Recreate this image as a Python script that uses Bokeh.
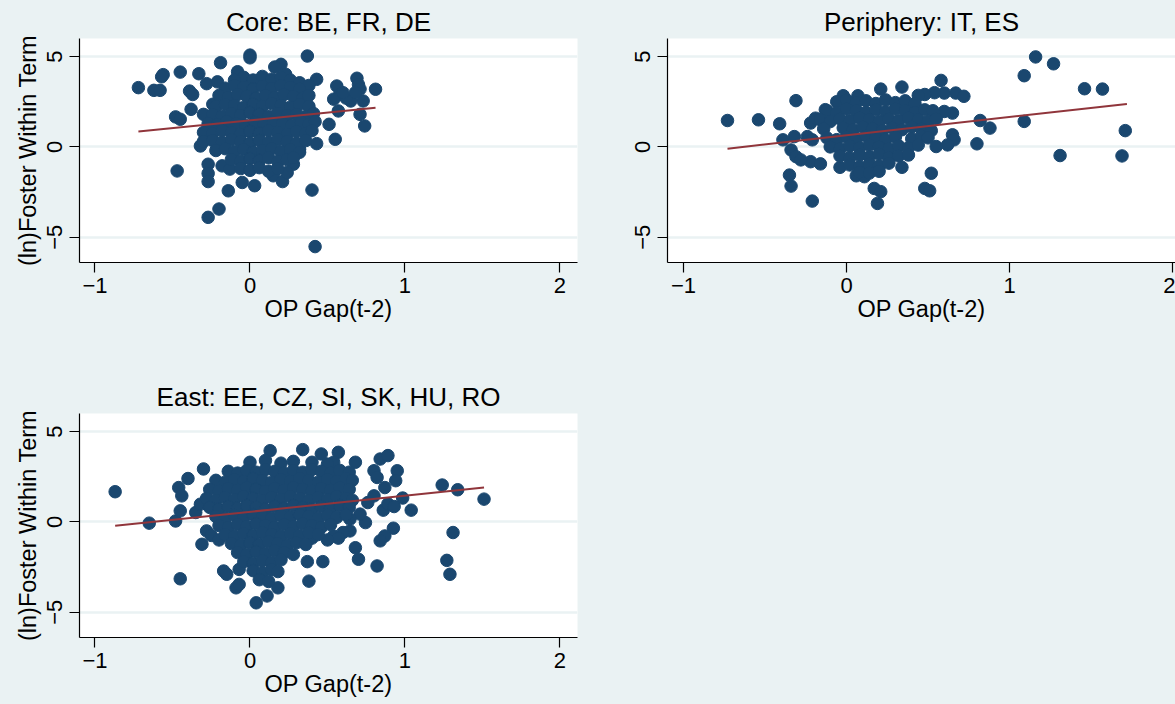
from bokeh.plotting import figure
from bokeh.layouts import column, row
from bokeh.models import Range1d, FixedTicker
from bokeh.embed import file_html
from bokeh.resources import INLINE

# ---------------- data ----------------
panel_titles = ["Core: BE, FR, DE", "Periphery: IT, ES", "East: EE, CZ, SI, SK, HU, RO"]
x_label = "OP Gap(t-2)"
y_label = "(ln)Foster Within Term"
x_ticks = [-1, 0, 1, 2]
y_ticks = [-5, 0, 5]

core_points = [
    (-0.72, 3.28), (-0.62, 3.13), (-0.58, 3.13), (-0.56, 4.00), (-0.57, 3.88),
    (-0.45, 4.14), (-0.33, 4.05), (-0.39, 3.09), (-0.37, 2.90), (-0.38, 2.08),
    (-0.48, 1.66), (-0.45, 1.53), (-0.47, -1.33), (-0.19, 4.66), (0.00, 5.08),
    (0.00, 4.93), (0.37, 5.03), (-0.14, -2.43), (-0.20, -3.44), (-0.27, -3.90),
    (-0.27, -0.96), (-0.27, -1.47), (-0.27, -1.92), (-0.32, 0.05), (0.40, -2.39),
    (0.42, -5.52), (0.43, 0.18), (0.55, 0.42), (0.51, 1.25), (0.74, 1.16),
    (0.81, 3.19), (0.69, 3.80), (0.70, 3.45), (0.71, 3.20), (0.73, 2.54),
    (0.71, 1.80), (0.65, 2.54), (0.56, 3.37), (0.58, 2.91), (0.54, 2.64),
    (0.57, 1.99), (0.43, 3.74), (0.20, 4.57), (0.16, 4.42), (0.23, 4.02),
    (-0.08, 4.16), (-0.28, 3.50), (-0.21, 3.60), (-0.24, 2.36), (-0.30, 1.80),
    (-0.18, -1.05), (-0.13, -1.23), (-0.05, -1.97), (0.03, -2.15), (0.15, -1.60),
    (0.21, -1.92), (0.28, -0.96), (0.24, -1.42), (0.32, -0.13), (0.62, 2.70),
    (0.60, 3.00), (0.68, 3.00),
    (-0.04, 3.85), (0.02, 3.70), (0.08, 3.90), (0.14, 3.75), (0.20, 3.85),
    (0.26, 3.70), (0.32, 3.55), (0.38, 3.40), (-0.10, 3.70),
    (-0.16, 3.25), (-0.10, 3.40), (-0.04, 3.30), (0.02, 3.20), (0.08, 3.35),
    (0.14, 3.25), (0.20, 3.40), (0.26, 3.30), (0.32, 3.20),
    (-0.20, 2.85), (-0.14, 2.75), (-0.08, 2.90), (-0.02, 2.80), (0.04, 2.70),
    (0.10, 2.85), (0.16, 2.75), (0.22, 2.90), (0.28, 2.80), (0.34, 2.70), (0.38, 2.85),
    (-0.22, 2.25), (-0.16, 2.35), (-0.10, 2.30), (-0.04, 2.20), (0.02, 2.35),
    (0.08, 2.25), (0.14, 2.40), (0.20, 2.30), (0.26, 2.20), (0.32, 2.35), (0.38, 2.25),
    (-0.24, 1.80), (-0.18, 1.70), (-0.12, 1.85), (-0.06, 1.75), (0.00, 1.90),
    (0.06, 1.80), (0.12, 1.70), (0.18, 1.85), (0.24, 1.75), (0.30, 1.80),
    (0.36, 1.70), (0.41, 1.85),
    (-0.27, 1.30), (-0.21, 1.25), (-0.15, 1.40), (-0.09, 1.30), (-0.03, 1.20),
    (0.03, 1.35), (0.09, 1.25), (0.15, 1.40), (0.21, 1.30), (0.27, 1.20),
    (0.33, 1.35), (0.38, 1.25), (0.42, 1.40),
    (-0.30, 0.80), (-0.24, 0.75), (-0.18, 0.90), (-0.12, 0.80), (-0.06, 0.70),
    (0.00, 0.85), (0.06, 0.75), (0.12, 0.90), (0.18, 0.80), (0.24, 0.70),
    (0.30, 0.85), (0.36, 0.75), (0.40, 0.90),
    (-0.30, 0.30), (-0.24, 0.35), (-0.18, 0.25), (-0.12, 0.40), (-0.06, 0.30),
    (0.00, 0.20), (0.06, 0.35), (0.12, 0.25), (0.18, 0.40), (0.24, 0.30),
    (0.30, 0.20), (0.36, 0.35),
    (-0.22, -0.20), (-0.16, -0.10), (-0.10, -0.25), (-0.04, -0.15), (0.02, -0.30),
    (0.08, -0.20), (0.14, -0.10), (0.20, -0.25), (0.26, -0.15), (0.32, -0.30),
    (-0.12, -0.70), (-0.06, -0.80), (0.00, -0.65), (0.06, -0.75), (0.12, -0.60),
    (0.18, -0.80), (0.24, -0.70), (0.28, -0.60),
    (-0.06, -1.20), (0.00, -1.30), (0.06, -1.15), (0.12, -1.35), (0.18, -1.20),
]

periphery_points = [
    (-0.73, 1.46), (-0.54, 1.50), (-0.41, 1.28), (-0.31, 2.56), (-0.35, -1.56),
    (-0.34, -2.17), (-0.21, -3.00), (-0.22, -0.82), (-0.16, -0.94), (-0.04, -1.13),
    (0.06, -1.60), (0.11, -1.65), (0.17, -2.30), (0.21, -2.48), (0.19, -3.13),
    (0.34, -1.13), (0.52, -1.46), (0.48, -2.30), (0.51, -2.43), (0.80, 0.17),
    (0.82, 1.46), (0.88, 1.04), (0.58, 3.68), (0.60, 2.98), (0.67, 2.98),
    (0.72, 2.80), (0.54, 3.00), (0.48, 2.90), (0.44, 2.85), (0.34, 3.31),
    (0.21, 3.20), (-0.02, 2.83), (0.07, 2.83), (0.65, 1.87), (0.60, 1.96),
    (0.65, 0.67), (0.66, 0.39), (0.62, 0.11), (0.55, 0.02),
    (1.09, 3.94), (1.16, 4.98), (1.27, 4.60), (1.46, 3.22), (1.57, 3.20),
    (1.09, 1.41), (1.31, -0.48), (1.69, -0.50), (1.71, 0.90),
    (-0.39, 0.39), (-0.32, 0.57), (-0.34, -0.17), (-0.31, -0.54), (-0.28, -0.72),
    (-0.24, 0.57), (-0.22, 1.32), (-0.19, 1.59), (-0.13, 2.06), (-0.21, 0.39),
    (-0.06, 2.50), (0.00, 2.60), (0.06, 2.45), (0.12, 2.55), (0.18, 2.40),
    (0.24, 2.60), (0.30, 2.45), (0.36, 2.55), (0.42, 2.40),
    (-0.12, 2.00), (-0.06, 1.90), (0.00, 2.10), (0.06, 2.00), (0.12, 1.90),
    (0.18, 2.05), (0.24, 1.95), (0.30, 2.10), (0.36, 2.00), (0.42, 1.90),
    (0.48, 2.05), (0.53, 2.00),
    (-0.16, 1.50), (-0.10, 1.40), (-0.04, 1.55), (0.02, 1.45), (0.08, 1.60),
    (0.14, 1.50), (0.20, 1.40), (0.26, 1.55), (0.32, 1.45), (0.38, 1.60),
    (0.44, 1.50), (0.50, 1.40), (0.55, 1.55),
    (-0.14, 1.00), (-0.02, 1.05), (0.04, 0.95), (0.10, 1.10), (0.16, 1.00),
    (0.22, 0.90), (0.28, 1.05), (0.34, 0.95), (0.40, 1.10), (0.46, 1.00), (0.52, 0.90),
    (-0.12, 0.50), (-0.06, 0.40), (0.00, 0.55), (0.06, 0.45), (0.12, 0.60),
    (0.18, 0.50), (0.24, 0.40), (0.30, 0.55), (0.40, 0.45), (0.46, 0.60), (0.50, 0.50),
    (-0.10, 0.00), (-0.04, -0.10), (0.02, 0.05), (0.08, -0.05), (0.14, 0.10),
    (0.20, 0.00), (0.26, -0.10), (0.32, 0.05), (0.38, -0.05), (0.44, 0.10),
    (-0.04, -0.50), (0.02, -0.60), (0.08, -0.45), (0.14, -0.55), (0.20, -0.40),
    (0.26, -0.60), (0.32, -0.50), (0.38, -0.45),
    (0.02, -1.00), (0.08, -1.10), (0.14, -0.95), (0.20, -1.05), (0.26, -0.90),
    (0.08, -1.40), (0.14, -1.45), (0.20, -1.35),
]

east_points = [
    (-0.87, 1.67), (-0.65, -0.07), (-0.48, 0.05), (-0.45, 0.61), (-0.46, 1.90),
    (-0.44, 1.44), (-0.40, 2.40), (-0.30, 2.93), (-0.45, -3.15), (-0.31, -1.24),
    (-0.35, 0.52), (-0.32, 0.98), (-0.17, -2.72), (-0.15, -2.90), (-0.09, -3.65),
    (-0.07, -3.46), (-0.07, -2.63), (0.04, -4.48), (0.11, -4.10), (0.18, -3.65),
    (0.38, -3.28), (0.37, -2.20), (0.47, -2.20), (0.13, 3.94), (0.34, 4.00),
    (0.46, 3.76), (0.57, 3.85), (0.68, 3.30), (0.54, 3.30), (0.84, 3.48),
    (0.89, 3.67), (0.80, 2.83), (0.95, 2.83), (0.94, 2.28), (0.87, 1.90),
    (0.82, 2.46), (0.985, 1.32), (1.04, 0.65), (0.86, 0.65), (0.89, 1.00),
    (0.93, 0.85), (0.925, -0.35), (0.87, -0.78), (0.84, -1.05), (0.82, -2.44),
    (0.70, -2.07), (0.68, -1.43), (0.645, -0.50), (0.60, -0.59), (0.54, -0.78),
    (0.745, -0.04), (0.71, 0.43), (0.645, 0.15), (0.76, 1.07), (0.80, 1.44),
    (0.57, -0.90), (0.50, -1.00), (0.40, -0.90),
    (1.24, 2.04), (1.34, 1.78), (1.51, 1.26), (1.31, -0.59), (1.27, -2.13), (1.29, -2.90),
    (-0.28, -0.50), (-0.25, -0.75), (-0.20, -1.00),
    (0.00, 3.30), (0.10, 3.40), (0.20, 3.25), (0.28, 3.35), (0.40, 3.30), (0.50, 3.20),
    (-0.14, 2.80), (-0.08, 2.70), (-0.02, 2.85), (0.04, 2.75), (0.10, 2.90),
    (0.16, 2.80), (0.22, 2.70), (0.28, 2.85), (0.34, 2.75), (0.40, 2.90),
    (0.46, 2.80), (0.52, 2.70), (0.58, 2.85), (0.64, 2.75),
    (-0.22, 2.30), (-0.16, 2.20), (-0.10, 2.35), (-0.04, 2.25), (0.02, 2.40),
    (0.08, 2.30), (0.14, 2.20), (0.20, 2.35), (0.26, 2.25), (0.32, 2.40),
    (0.38, 2.30), (0.44, 2.20), (0.50, 2.35), (0.56, 2.25), (0.62, 2.40), (0.66, 2.30),
    (-0.26, 1.80), (-0.20, 1.70), (-0.14, 1.85), (-0.08, 1.75), (-0.02, 1.90),
    (0.04, 1.80), (0.10, 1.70), (0.16, 1.85), (0.22, 1.75), (0.28, 1.90),
    (0.34, 1.80), (0.40, 1.70), (0.46, 1.85), (0.52, 1.75), (0.58, 1.90), (0.64, 1.80),
    (-0.28, 1.30), (-0.22, 1.20), (-0.16, 1.35), (-0.10, 1.25), (-0.04, 1.40),
    (0.02, 1.30), (0.08, 1.20), (0.14, 1.35), (0.20, 1.25), (0.26, 1.40),
    (0.32, 1.30), (0.38, 1.20), (0.44, 1.35), (0.50, 1.25), (0.56, 1.40),
    (0.62, 1.30), (0.66, 1.20),
    (-0.26, 0.80), (-0.20, 0.70), (-0.14, 0.85), (-0.08, 0.75), (-0.02, 0.90),
    (0.04, 0.80), (0.10, 0.70), (0.16, 0.85), (0.22, 0.75), (0.28, 0.90),
    (0.34, 0.80), (0.40, 0.70), (0.46, 0.85), (0.52, 0.75), (0.58, 0.90), (0.64, 0.80),
    (-0.22, 0.30), (-0.16, 0.20), (-0.10, 0.35), (-0.04, 0.25), (0.02, 0.40),
    (0.08, 0.30), (0.14, 0.20), (0.20, 0.35), (0.26, 0.25), (0.32, 0.40),
    (0.38, 0.30), (0.44, 0.20), (0.50, 0.35), (0.56, 0.25), (0.62, 0.40),
    (-0.20, -0.20), (-0.14, -0.30), (-0.08, -0.15), (-0.02, -0.25), (0.04, -0.10),
    (0.10, -0.20), (0.16, -0.30), (0.22, -0.15), (0.28, -0.25), (0.34, -0.10),
    (0.40, -0.20), (0.46, -0.30), (0.52, -0.15),
    (-0.16, -0.70), (-0.10, -0.80), (-0.04, -0.65), (0.02, -0.75), (0.08, -0.60),
    (0.14, -0.70), (0.20, -0.80), (0.26, -0.65), (0.32, -0.75), (0.38, -0.60), (0.44, -0.70),
    (-0.12, -1.20), (-0.06, -1.30), (0.00, -1.15), (0.06, -1.25), (0.12, -1.10),
    (0.18, -1.20), (0.24, -1.30), (0.30, -1.15), (0.36, -1.25),
    (-0.08, -1.70), (-0.02, -1.80), (0.04, -1.65), (0.10, -1.75), (0.16, -1.60),
    (0.22, -1.70), (0.28, -1.80),
    (-0.04, -2.20), (0.02, -2.30), (0.08, -2.15), (0.14, -2.25), (0.20, -2.10),
    (0.02, -2.70), (0.08, -2.80), (0.14, -2.65), (0.18, -2.75),
    (0.06, -3.20), (0.12, -3.30),
]

# fitted-line endpoints (x, y)
core_fit_x = [-0.72, 0.81]
core_fit_y = [0.85, 2.16]
periphery_fit_x = [-0.73, 1.72]
periphery_fit_y = [-0.10, 2.38]
east_fit_x = [-0.87, 1.51]
east_fit_y = [-0.22, 1.91]

# ---------------- styling ----------------
BG = "#EAF2F3"
NAVY = "#1A476F"
MAROON = "#90353B"
FONT = "Liberation Sans"


def make_panel(title, points, fit_x, fit_y, x_range, frame_w, mbl, mbr, mbb,
               show_ylabel, title_offset=0):
    p = figure(
        frame_width=frame_w, frame_height=224,
        x_range=Range1d(*x_range), y_range=Range1d(-6.4, 6.0),
        output_backend="svg", toolbar_location=None,
        min_border_left=mbl, min_border_right=mbr,
        min_border_top=38, min_border_bottom=mbb,
        border_fill_color=BG, background_fill_color="white",
        outline_line_color=None, title=title,
    )
    p.title.align = "center"
    p.title.text_font = FONT
    p.title.text_font_size = "26px"
    p.title.text_font_style = "normal"
    p.title.text_color = "black"
    p.title.standoff = 3
    p.title.offset = title_offset

    xs = [pt[0] for pt in points]
    ys = [pt[1] for pt in points]
    p.scatter(xs, ys, size=12.5, fill_color=NAVY, line_color=NAVY)
    p.line(fit_x, fit_y, line_color=MAROON, line_width=2)

    p.xgrid.visible = False
    p.ygrid.ticker = FixedTicker(ticks=y_ticks)
    p.ygrid.grid_line_color = BG
    p.ygrid.grid_line_width = 2.5

    for ax in (p.xaxis[0], p.yaxis[0]):
        ax.axis_line_color = "black"
        ax.axis_line_width = 1.2
        ax.major_tick_line_color = "black"
        ax.major_tick_line_width = 1.2
        ax.major_tick_out = 10
        ax.major_tick_in = 0
        ax.minor_tick_out = 0
        ax.minor_tick_in = 0
        ax.major_label_text_font = FONT
        ax.major_label_text_font_size = "22px"
        ax.major_label_text_color = "black"
        ax.axis_label_text_font = FONT
        ax.axis_label_text_font_size = "23.5px"
        ax.axis_label_text_font_style = "normal"
        ax.axis_label_text_color = "black"

    p.xaxis.ticker = FixedTicker(ticks=x_ticks)
    p.yaxis.ticker = FixedTicker(ticks=y_ticks)
    p.xaxis.axis_label = x_label
    p.xaxis.major_label_standoff = 5
    p.xaxis.axis_label_standoff = 0
    p.yaxis.major_label_orientation = "vertical"
    p.yaxis.major_label_standoff = 7
    if show_ylabel:
        p.yaxis.axis_label = y_label
        p.yaxis.axis_label_standoff = 4
    return p


p1 = make_panel(panel_titles[0], core_points, core_fit_x, core_fit_y,
                (-1.1, 2.113), 498, 79, 23, 113, True)
p2 = make_panel(panel_titles[1], periphery_points, periphery_fit_x, periphery_fit_y,
                (-1.098, 2.018), 508, 67, 0, 113, False, title_offset=8)
p3 = make_panel(panel_titles[2], east_points, east_fit_x, east_fit_y,
                (-1.1, 2.113), 498, 79, 598, 67, True)

layout = column(row(p1, p2, spacing=0), row(p3, spacing=0), spacing=0)
layout.styles = {"background-color": BG}

html = file_html(layout, INLINE)
html = html.replace("<head>", "<head><style>html,body{margin:0;padding:0;background:#EAF2F3;}</style>", 1)
open("out.html", "w").write(html)
